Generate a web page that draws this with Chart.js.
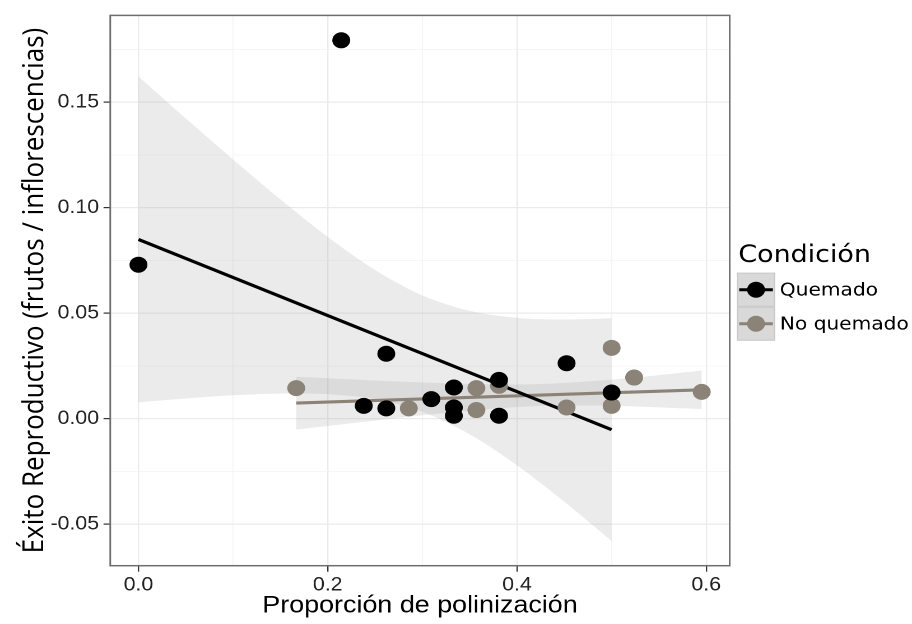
<!DOCTYPE html>
<html><head><meta charset="utf-8">
<script src="https://cdn.jsdelivr.net/npm/chart.js@4.4.1/dist/chart.umd.min.js"></script>
<style>
html,body{margin:0;padding:0;background:#fff;overflow:hidden;}
#wrap{width:814px;height:624px;transform:scaleX(1.12039);transform-origin:0 0;}
</style></head><body>
<div id="wrap"><canvas id="c" width="814" height="624"></canvas></div>
<script>
// ---------- data ----------
const seriesNames = ['Quemado', 'No quemado'];
const legendTitle = 'Condición';
const xTitle = 'Proporción de polinización';
const yTitle = 'Éxito Reproductivo (frutos / inflorescencias)';

const xQuemado = [0, 0.2143, 0.2381, 0.2619, 0.2619, 0.3095, 0.3333, 0.3333, 0.3333, 0.3810, 0.3810, 0.4524, 0.5];
const yQuemado = [0.0730, 0.1794, 0.0061, 0.0308, 0.0049, 0.0093, 0.0148, 0.0053, 0.0014, 0.0184, 0.0014, 0.0263, 0.0124];

const xNoQuemado = [0.1667, 0.2857, 0.3571, 0.3571, 0.3810, 0.4524, 0.5, 0.5, 0.5238, 0.5952];
const yNoQuemado = [0.0145, 0.0049, 0.0145, 0.0041, 0.0156, 0.0053, 0.0336, 0.0061, 0.0195, 0.0127];

// fitted lines
const fitXQuemado = [0, 0.5];
const fitYQuemado = [0.0850, -0.0052];
const fitXNoQuemado = [0.1667, 0.5952];
const fitYNoQuemado = [0.0074, 0.0137];

// confidence bands
const bandXQuemado = [0, 0.05, 0.1, 0.15, 0.2, 0.25, 0.3, 0.35, 0.4, 0.45, 0.5];
const bandUpQuemado = [0.1622, 0.1424, 0.1229, 0.1040, 0.0862, 0.0705, 0.0584, 0.0511, 0.0478, 0.0470, 0.0476];
const bandLoQuemado = [0.0078, 0.0096, 0.0111, 0.0119, 0.0116, 0.0093, 0.0033, -0.0074, -0.0221, -0.0394, -0.0580];

const bandXNoQuemado = [0.1667, 0.25, 0.3333, 0.4167, 0.5, 0.5952];
const bandUpNoQuemado = [0.0199, 0.0181, 0.0167, 0.0163, 0.0185, 0.0228];
const bandLoNoQuemado = [-0.0051, -0.0009, 0.0031, 0.0059, 0.0061, 0.0046];

// axis ticks
const xMajorTicks = [0, 0.2, 0.4, 0.6];
const xTickLabels = ['0.0', '0.2', '0.4', '0.6'];
const yMajorTicks = [-0.05, 0, 0.05, 0.10, 0.15];
const yTickLabels = ['-0.05', '0.00', '0.05', '0.10', '0.15'];

// ---------- styles ----------
const colQ = '#000000';
const colN = '#8b8378';
const bandFill = 'rgba(153,153,153,0.2)';

const pts = (xs, ys) => xs.map((x, i) => ({x: x, y: ys[i]}));
const majorIdx = (arr, v) => arr.findIndex(m => Math.abs(m - v) < 1e-6);

const datasets = [
  {label: 'bandQ_up', data: pts(bandXQuemado, bandUpQuemado), borderWidth: 0, pointRadius: 0, fill: '+1', backgroundColor: bandFill, order: 3, tension: 0.3},
  {label: 'bandQ_lo', data: pts(bandXQuemado, bandLoQuemado), borderWidth: 0, pointRadius: 0, fill: false, order: 3, tension: 0.3},
  {label: 'bandN_up', data: pts(bandXNoQuemado, bandUpNoQuemado), borderWidth: 0, pointRadius: 0, fill: '+1', backgroundColor: bandFill, order: 3, tension: 0.3},
  {label: 'bandN_lo', data: pts(bandXNoQuemado, bandLoNoQuemado), borderWidth: 0, pointRadius: 0, fill: false, order: 3, tension: 0.3},
  {label: 'fitQ', data: pts(fitXQuemado, fitYQuemado), borderColor: colQ, borderWidth: 3.2, pointRadius: 0, fill: false, order: 2},
  {label: 'fitN', data: pts(fitXNoQuemado, fitYNoQuemado), borderColor: colN, borderWidth: 3.2, pointRadius: 0, fill: false, order: 2},
  {label: seriesNames[1], data: pts(xNoQuemado, yNoQuemado), showLine: false, pointRadius: 8, pointBorderWidth: 0, pointBackgroundColor: colN, order: 1},
  {label: seriesNames[0], data: pts(xQuemado, yQuemado), showLine: false, pointRadius: 8, pointBorderWidth: 0, pointBackgroundColor: colQ, order: 0}
];

const panelBox = {
  id: 'panelBox',
  afterDraw(chart) {
    const {ctx, chartArea: a} = chart;
    ctx.save();
    ctx.strokeStyle = '#6e6e6e';
    ctx.lineWidth = 1.5;
    ctx.strokeRect(a.left, a.top, a.right - a.left, a.bottom - a.top);
    // legend
    ctx.fillStyle = '#000';
    ctx.font = '24px "DejaVu Sans"';
    ctx.textBaseline = 'alphabetic';
    ctx.textAlign = 'left';
    ctx.fillText(legendTitle, 659, 262);
    const cols = [colQ, colN];
    for (let i = 0; i < 2; i++) {
      const x0 = 657.8, y0 = 272.7 + i * 34, s = 34;
      ctx.fillStyle = '#d9d9d9';
      ctx.fillRect(x0, y0, s, s);
      ctx.strokeStyle = '#c8c8c8';
      ctx.lineWidth = 1;
      ctx.strokeRect(x0 + 0.5, y0 + 0.5, s - 1, s - 1);
      const cy = y0 + s / 2;
      ctx.strokeStyle = cols[i];
      ctx.lineWidth = 3;
      ctx.beginPath(); ctx.moveTo(x0 + 2, cy); ctx.lineTo(x0 + s - 2, cy); ctx.stroke();
      ctx.fillStyle = cols[i];
      ctx.beginPath(); ctx.arc(x0 + s / 2, cy, 8, 0, Math.PI * 2); ctx.fill();
      ctx.fillStyle = '#000';
      ctx.font = '18px "DejaVu Sans"';
      ctx.textBaseline = 'middle';
      ctx.fillText(seriesNames[i], 696, cy + 1);
    }
    ctx.restore();
  }
};

new Chart(document.getElementById('c'), {
  type: 'line',
  data: {datasets},
  plugins: [panelBox],
  options: {
    responsive: false,
    devicePixelRatio: 2,
    animation: false,
    events: [],
    layout: {padding: {top: 12.7, right: 162.7, left: 0, bottom: 0}},
    plugins: {legend: {display: false}, tooltip: {enabled: false}},
    scales: {
      x: {
        type: 'linear',
        min: -0.0298, max: 0.6248,
        afterFit(s) { s.height = 58.3; },
        border: {display: false},
        grid: {
          color: c => (c.tick && majorIdx(xMajorTicks, c.tick.value) >= 0) ? '#ebebeb' : '#f3f3f3',
          lineWidth: c => (c.tick && majorIdx(xMajorTicks, c.tick.value) >= 0) ? 1.2 : 0.8,
          tickColor: c => (c.tick && majorIdx(xMajorTicks, c.tick.value) >= 0) ? '#333' : 'rgba(0,0,0,0)',
          tickLength: 6, tickWidth: 1.2
        },
        ticks: {
          stepSize: 0.1, includeBounds: false, autoSkip: false, maxRotation: 0,
          padding: 2, color: '#222',
          font: {family: '"Liberation Sans", Arial, sans-serif', size: 19},
          callback: v => { const i = majorIdx(xMajorTicks, v); return i >= 0 ? xTickLabels[i] : ''; }
        },
        title: {display: true, text: xTitle, color: '#000',
          font: {family: '"Liberation Sans", Arial, sans-serif', size: 24, lineHeight: 1.2},
          padding: {top: 0, bottom: 3.6}}
      },
      y: {
        type: 'linear',
        min: -0.0697, max: 0.1912,
        afterFit(s) { s.width = 98.4; },
        border: {display: false},
        grid: {
          color: c => (c.tick && majorIdx(yMajorTicks, c.tick.value) >= 0) ? '#ebebeb' : '#f3f3f3',
          lineWidth: c => (c.tick && majorIdx(yMajorTicks, c.tick.value) >= 0) ? 1.2 : 0.8,
          tickColor: c => (c.tick && majorIdx(yMajorTicks, c.tick.value) >= 0) ? '#333' : 'rgba(0,0,0,0)',
          tickLength: 6, tickWidth: 1.2
        },
        ticks: {
          stepSize: 0.025, includeBounds: false, autoSkip: false,
          padding: 4, color: '#222',
          font: {family: '"Liberation Sans", Arial, sans-serif', size: 19},
          callback: v => { const i = majorIdx(yMajorTicks, v); return i >= 0 ? yTickLabels[i] : ''; }
        },
        title: {display: true, text: yTitle, color: '#000',
          font: {family: '"Open Sans", "Liberation Sans", sans-serif', size: 26, lineHeight: 1.2},
          padding: {top: 15.5, bottom: 0}}
      }
    }
  }
});
</script>
</body></html>
